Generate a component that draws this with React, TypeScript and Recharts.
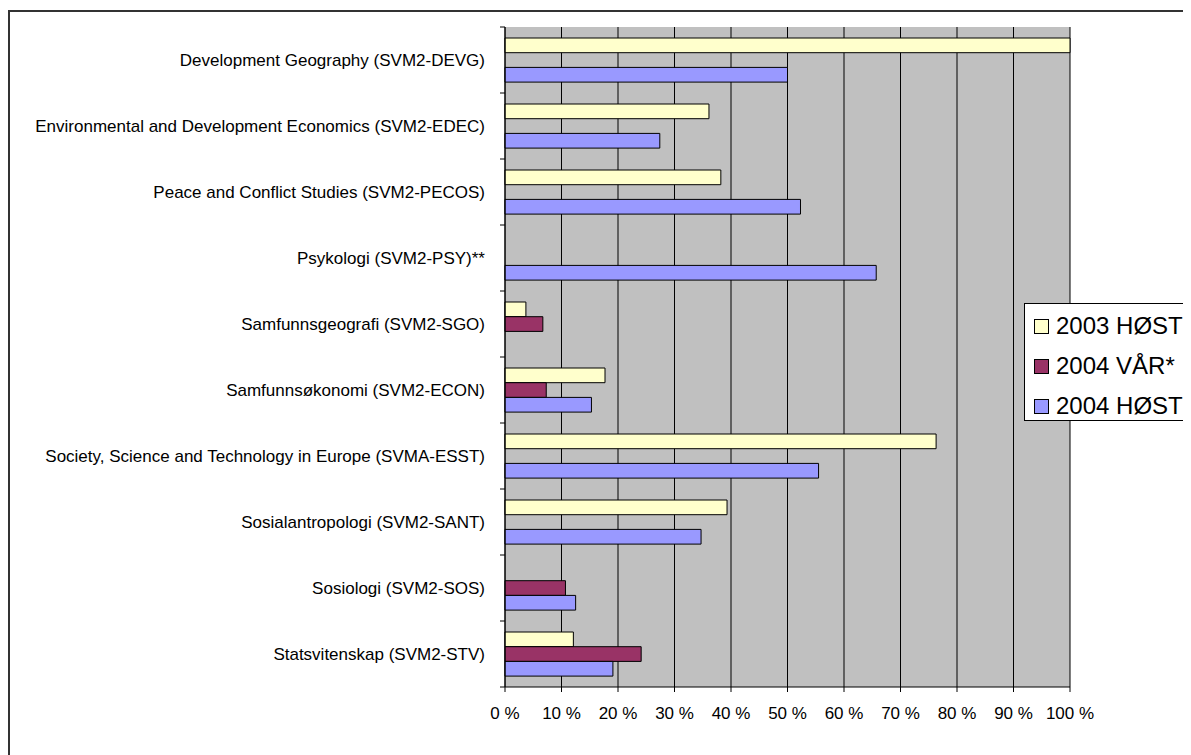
import { BarChart, Bar, XAxis, YAxis, CartesianGrid, Legend } from "recharts";

const programs = [
  "Development Geography (SVM2-DEVG)",
  "Environmental and Development Economics (SVM2-EDEC)",
  "Peace and Conflict Studies (SVM2-PECOS)",
  "Psykologi (SVM2-PSY)**",
  "Samfunnsgeografi (SVM2-SGO)",
  "Samfunnsøkonomi (SVM2-ECON)",
  "Society, Science and Technology in Europe (SVMA-ESST)",
  "Sosialantropologi (SVM2-SANT)",
  "Sosiologi (SVM2-SOS)",
  "Statsvitenskap (SVM2-STV)",
];

const seriesNames = ["2003 HØST", "2004 VÅR*", "2004 HØST"];

const host2003 = [100, 36.1, 38.2, null, 3.7, 17.7, 76.3, 39.3, null, 12.1];
const var2004 = [null, null, null, null, 6.7, 7.3, null, null, 10.7, 24.1];
const host2004 = [50, 27.4, 52.3, 65.7, null, 15.3, 55.5, 34.7, 12.5, 19.1];

const xTicks = [0, 10, 20, 30, 40, 50, 60, 70, 80, 90, 100];

const data = programs.map((name, i) => ({
  name,
  h03: host2003[i],
  v04: var2004[i],
  h04: host2004[i],
}));

const FONT = '"Liberation Sans", Arial, sans-serif';

// category label in the middle of the band, tick marks on band edges (Excel style)
function ProgramTick(props: any) {
  const { x, y, payload } = props;
  const half = payload.offset ?? 33;
  const axisX = x + 20;
  const isLast = payload.value === programs[programs.length - 1];
  return (
    <g>
      <line x1={axisX - 5} x2={axisX} y1={y - half} y2={y - half} stroke="#000" />
      {isLast && (
        <line x1={axisX - 5} x2={axisX} y1={y + half} y2={y + half} stroke="#000" />
      )}
      <text
        x={x}
        y={y}
        textAnchor="end"
        dominantBaseline="central"
        fontSize={17}
        fontFamily={FONT}
        fill="#000"
      >
        {payload.value}
      </text>
    </g>
  );
}

function LegendBox({ payload }: any) {
  const items = [...(payload || [])].sort(
    (a: any, b: any) => seriesNames.indexOf(a.value) - seriesNames.indexOf(b.value)
  );
  return (
    <div
      style={{
        boxSizing: "border-box",
        width: 230,
        height: 118,
        border: "1px solid #000",
        background: "#fff",
        paddingLeft: 9,
        paddingTop: 2,
        fontFamily: FONT,
      }}
    >
      {items.map((item: any) => (
        <div
          key={item.value}
          style={{ display: "flex", alignItems: "center", height: 40 }}
        >
          <span
            style={{
              boxSizing: "border-box",
              width: 15,
              height: 15,
              background: item.color,
              border: "1px solid #000",
            }}
          />
          <span style={{ marginLeft: 7, fontSize: 24, color: "#000", whiteSpace: "nowrap" }}>
            {item.value}
          </span>
        </div>
      ))}
    </div>
  );
}

export default function App() {
  return (
    <div
      style={{
        position: "relative",
        width: 1183,
        height: 747,
        overflow: "hidden",
        background: "#fff",
      }}
    >
      <div
        style={{
          position: "absolute",
          left: 0,
          top: 2,
          width: 1300,
          height: 900,
          border: "2px solid #333",
        }}
      />
      <div style={{ position: "absolute", left: 0, top: 0 }}>
        <BarChart
          width={1183}
          height={747}
          data={data}
          layout="vertical"
          margin={{ top: 19, right: 121, bottom: 28, left: 0 }}
          barSize={14.7}
          barGap={0}
        >
          <CartesianGrid
            horizontal={false}
            stroke="#000"
            fill="#c0c0c0"
            fillOpacity={1}
          />
          <XAxis
            type="number"
            domain={[0, 100]}
            ticks={xTicks}
            interval={0}
            tickFormatter={(v: number) => `${v} %`}
            tick={{ fontSize: 17, fill: "#000", fontFamily: FONT }}
            axisLine={{ stroke: "#000" }}
            tickLine={{ stroke: "#000" }}
            tickSize={5}
            tickMargin={15}
            height={40}
          />
          <YAxis
            type="category"
            dataKey="name"
            width={497}
            interval={0}
            tick={<ProgramTick />}
            tickLine={false}
            tickSize={5}
            tickMargin={15}
            axisLine={{ stroke: "#000" }}
          />
          <Legend
            layout="vertical"
            align="center"
            verticalAlign="middle"
            itemSorter={null}
            wrapperStyle={{ left: 1016, top: 295, width: 230, height: 118 }}
            content={<LegendBox />}
          />
          <Bar dataKey="h03" name={seriesNames[0]} fill="#ffffcc" stroke="#000" isAnimationActive={false} />
          <Bar dataKey="v04" name={seriesNames[1]} fill="#993366" stroke="#000" isAnimationActive={false} />
          <Bar dataKey="h04" name={seriesNames[2]} fill="#9999ff" stroke="#000" isAnimationActive={false} />
        </BarChart>
      </div>
    </div>
  );
}
